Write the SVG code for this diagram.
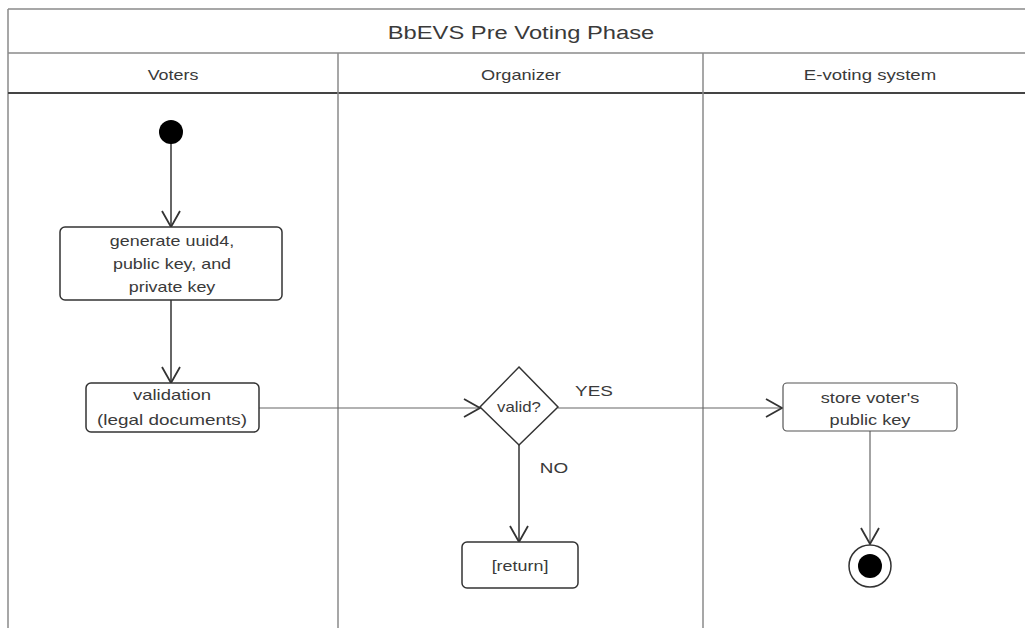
<svg xmlns="http://www.w3.org/2000/svg" width="1025" height="628" viewBox="0 0 1025 628">
  <defs>
    <style>
      .frame { fill: none; stroke: #8a8a8a; stroke-width: 1.5; }
      .hdr { fill: none; stroke: #444; stroke-width: 2; }
      .node { fill: #fff; stroke: #333; stroke-width: 1.5; }
      .conn { fill: none; stroke: #333; stroke-width: 1.5; }
      .conn2 { fill: none; stroke: #666; stroke-width: 1.2; }
      text { font-family: "Liberation Sans", Arial, sans-serif; fill: #3a3a3a; text-anchor: middle; }
      .t { font-size: 14px; }
      .title { font-size: 18px; }
      .lane { font-size: 14px; }
    </style>
    <marker id="open" viewBox="0 0 20 20" refX="18" refY="10" markerWidth="20" markerHeight="20" markerUnits="userSpaceOnUse" orient="auto">
      <path d="M2,1 L18,10 L2,19" fill="none" stroke="#333" stroke-width="1.8"/>
    </marker>
  </defs>
  <rect width="1025" height="628" fill="#fff"/>

  <g id="frame">
    <line class="frame" x1="8" y1="9" x2="1025" y2="9"/>
    <line class="frame" x1="8" y1="9" x2="8" y2="628"/>
    <line class="frame" x1="8" y1="53" x2="1025" y2="53"/>
    <line class="hdr" x1="8" y1="93" x2="1025" y2="93"/>
    <line class="frame" x1="338" y1="53" x2="338" y2="628"/>
    <line class="frame" x1="703" y1="53" x2="703" y2="628"/>
    <text class="title" transform="translate(521,39) scale(1.32,1)">BbEVS Pre Voting Phase</text>
    <text class="lane" transform="translate(173,80) scale(1.28,1)">Voters</text>
    <text class="lane" transform="translate(521,80) scale(1.3,1)">Organizer</text>
    <text class="lane" transform="translate(870,80) scale(1.33,1)">E-voting system</text>
  </g>

  <g id="connectors">
    <line class="conn" x1="171" y1="140" x2="171" y2="227" marker-end="url(#open)"/>
    <line class="conn" x1="171" y1="300" x2="171" y2="383" marker-end="url(#open)"/>
    <line class="conn2" x1="259" y1="408" x2="480" y2="408" marker-end="url(#open)"/>
    <line class="conn2" x1="558" y1="408" x2="782" y2="408" marker-end="url(#open)"/>
    <line class="conn" x1="519" y1="445" x2="519" y2="542" marker-end="url(#open)"/>
    <line class="conn2" x1="870" y1="431" x2="870" y2="544" marker-end="url(#open)"/>
    <text class="t" transform="translate(594,396) scale(1.35,1)">YES</text>
    <text class="t" transform="translate(554,473) scale(1.35,1)">NO</text>
  </g>

  <g id="start">
    <circle cx="171" cy="132" r="12" fill="#000"/>
  </g>

  <g id="generate">
    <rect class="node" x="60" y="227" width="222" height="73" rx="5"/>
    <text class="t" transform="translate(172,246) scale(1.28,1)">generate uuid4,</text>
    <text class="t" transform="translate(172,269) scale(1.28,1)">public key, and</text>
    <text class="t" transform="translate(172,292) scale(1.28,1)">private key</text>
  </g>

  <g id="validation">
    <rect class="node" x="86" y="383" width="173" height="49" rx="5"/>
    <text class="t" transform="translate(172,400) scale(1.32,1)">validation</text>
    <text class="t" transform="translate(172,425) scale(1.35,1)">(legal documents)</text>
  </g>

  <g id="valid">
    <polygon class="node" points="519,367 558,407 519,445 480,407"/>
    <text class="t" transform="translate(519,412) scale(1.2,1)">valid?</text>
  </g>

  <g id="return">
    <rect class="node" x="462" y="542" width="116" height="46" rx="5"/>
    <text class="t" transform="translate(520,571) scale(1.28,1)">[return]</text>
  </g>

  <g id="store">
    <rect class="node" x="783" y="383" width="174" height="48" rx="4" style="stroke:#555;stroke-width:1.2"/>
    <text class="t" transform="translate(870,403) scale(1.3,1)">store voter's</text>
    <text class="t" transform="translate(870,425) scale(1.3,1)">public key</text>
  </g>

  <g id="end">
    <circle cx="870" cy="566" r="21" fill="#fff" stroke="#333" stroke-width="1.5"/>
    <circle cx="870" cy="566" r="12" fill="#000"/>
  </g>
</svg>
